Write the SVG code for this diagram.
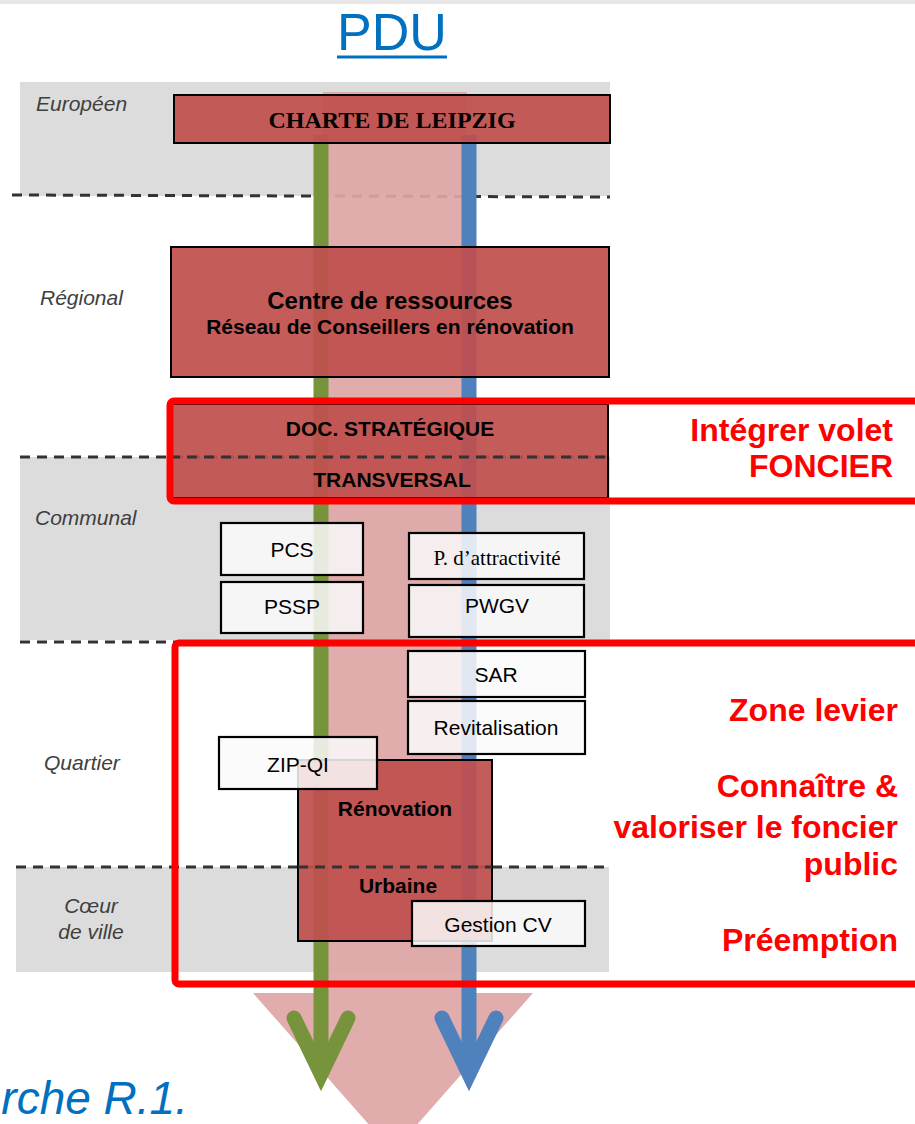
<svg xmlns="http://www.w3.org/2000/svg" width="915" height="1124" viewBox="0 0 915 1124">
<defs>
<style>
.band{fill:#dcdcdc}
.dash{stroke:#333;stroke-width:3;stroke-dasharray:10 7;fill:none}
.redbox{fill:#c0504d;fill-opacity:0.93;stroke:#000;stroke-width:2}
.wbox{fill:#fafafa;fill-opacity:0.85;stroke:#000;stroke-width:2.2}
.frame{fill:none;stroke:#ff0000;stroke-width:7}
.lbl{font-family:"Liberation Sans",Arial,sans-serif;font-style:italic;font-size:21px;fill:#404040}
.bt{font-family:"Liberation Sans",Arial,sans-serif;font-weight:bold;font-size:21px;fill:#000;text-anchor:middle}
.big{font-size:24px}
.nt{font-family:"Liberation Sans",Arial,sans-serif;font-size:21px;fill:#000;text-anchor:middle}
.st{font-family:"Liberation Serif","Times New Roman",serif;font-size:21px;fill:#000;text-anchor:middle}
.rt{font-family:"Liberation Sans",Arial,sans-serif;font-weight:bold;font-size:32px;fill:#ff0000;text-anchor:end}
.line{stroke-width:15;fill:none}
.arrow{stroke-width:15;fill:none;stroke-linecap:round;stroke-linejoin:miter;stroke-miterlimit:6}
</style>
</defs>
<rect x="0" y="0" width="915" height="4" fill="#e6e6e6"/>
<g id="title">
<text x="392" y="50" font-family="Liberation Sans,Arial,sans-serif" font-size="52" fill="#0070c0" text-anchor="middle">PDU</text>
<line x1="337" y1="57" x2="447" y2="57" stroke="#0070c0" stroke-width="3"/>
</g>
<g id="bands">
<rect class="band" x="20" y="82" width="590" height="114"/>
<rect class="band" x="20" y="457" width="590" height="183"/>
<rect class="band" x="16" y="867" width="593" height="105"/>
</g>
<g id="dashes">
<line class="dash" x1="12" y1="195" x2="610" y2="197"/>
<line class="dash" x1="20" y1="457" x2="608" y2="457"/>
<line class="dash" x1="20" y1="642" x2="176" y2="642"/>
<line class="dash" x1="16" y1="867" x2="609" y2="867"/>
</g>
<g id="column">
<rect x="323" y="92" width="144" height="901" fill="#dea5a5" fill-opacity="0.92"/>
<polygon points="253,993 533,993 393,1152" fill="#dea5a5" fill-opacity="0.92"/>
</g>
<g id="connectors">
<line class="line" x1="321" y1="135" x2="321" y2="1075" stroke="#77933c"/>
<line class="line" x1="469" y1="135" x2="469" y2="1075" stroke="#4f81bd"/>
<polyline class="arrow" points="294,1018 321,1074 348,1018" stroke="#77933c"/>
<polyline class="arrow" points="442,1018 469,1074 496,1018" stroke="#4f81bd"/>
</g>
<g id="labels">
<text class="lbl" x="36" y="111">Européen</text>
<text class="lbl" x="40" y="305">Régional</text>
<text class="lbl" x="35" y="525">Communal</text>
<text class="lbl" x="44" y="770">Quartier</text>
<text class="lbl" x="91" y="913" text-anchor="middle">Cœur</text>
<text class="lbl" x="91" y="939" text-anchor="middle">de ville</text>
</g>
<g id="charte">
<rect class="redbox" x="174" y="95" width="436" height="48"/>
<text x="392" y="128" font-family="Liberation Serif,'Times New Roman',serif" font-weight="bold" font-size="24" text-anchor="middle" fill="#000">CHARTE DE LEIPZIG</text>
</g>
<g id="centre">
<rect class="redbox" x="171" y="247" width="438" height="130"/>
<text class="bt big" x="390" y="309">Centre de ressources</text>
<text class="bt" x="390" y="334">Réseau de Conseillers en rénovation</text>
</g>
<g id="doc">
<rect class="redbox" x="170" y="404" width="438" height="94"/>
<line class="dash" x1="170" y1="457" x2="608" y2="457"/>
<text class="bt" x="390" y="436">DOC. STRATÉGIQUE</text>
<text class="bt" x="392" y="487">TRANSVERSAL</text>
</g>
<g id="renovation">
<rect class="redbox" x="298" y="760" width="194" height="181"/>
<line class="dash" x1="298" y1="867" x2="492" y2="867"/>
<text class="bt" x="395" y="816">Rénovation</text>
<text class="bt" x="398" y="893">Urbaine</text>
</g>
<g id="pcs">
<rect class="wbox" x="221" y="523" width="142" height="52"/>
<text class="nt" x="292" y="557">PCS</text>
</g>
<g id="pssp">
<rect class="wbox" x="221" y="582" width="142" height="51"/>
<text class="nt" x="292" y="614">PSSP</text>
</g>
<g id="pattr">
<rect class="wbox" x="409" y="533" width="175" height="46"/>
<text class="st" x="497" y="565">P. d’attractivité</text>
</g>
<g id="pwgv">
<rect class="wbox" x="409" y="585" width="175" height="52"/>
<text class="nt" x="497" y="613">PWGV</text>
</g>
<g id="sar">
<rect class="wbox" x="408" y="651" width="177" height="46"/>
<text class="nt" x="496" y="682">SAR</text>
</g>
<g id="revit">
<rect class="wbox" x="408" y="701" width="177" height="53"/>
<text class="nt" x="496" y="735">Revitalisation</text>
</g>
<g id="zipqi">
<rect class="wbox" x="219" y="737" width="158" height="52"/>
<text class="nt" x="298" y="772">ZIP-QI</text>
</g>
<g id="gestion">
<rect class="wbox" x="412" y="901" width="173" height="45"/>
<text class="nt" x="498" y="932">Gestion CV</text>
</g>
<g id="frame1">
<rect class="frame" x="170" y="401" width="760" height="100" rx="4"/>
<text class="rt" x="893" y="441">Intégrer volet</text>
<text class="rt" x="893" y="477">FONCIER</text>
</g>
<g id="frame2">
<rect class="frame" x="175" y="643" width="760" height="341" rx="4"/>
<text class="rt" x="898" y="721">Zone levier</text>
<text class="rt" x="898" y="797">Connaître &amp;</text>
<text class="rt" x="898" y="838">valoriser le foncier</text>
<text class="rt" x="898" y="875">public</text>
<text class="rt" x="898" y="951">Préemption</text>
</g>
<text x="188" y="1114" font-family="Liberation Sans,Arial,sans-serif" font-style="italic" font-size="46" fill="#0070c0" text-anchor="end">rche R.1.</text>
</svg>
